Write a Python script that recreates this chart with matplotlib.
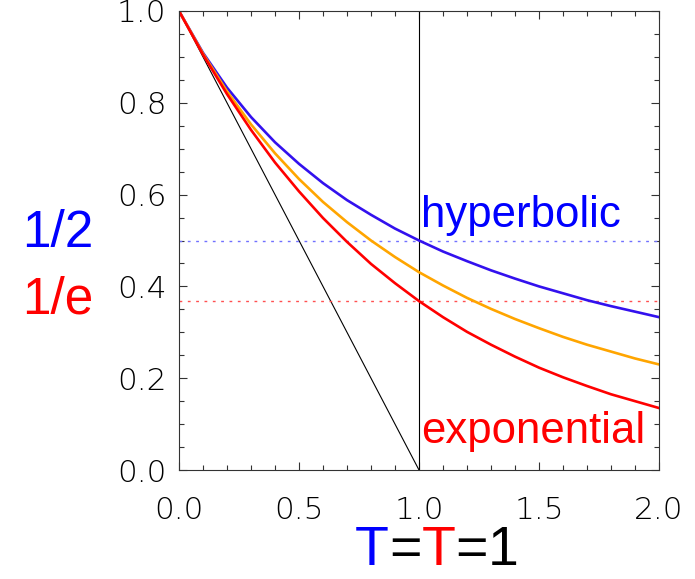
import matplotlib
matplotlib.use("Agg")
import matplotlib.pyplot as plt
from matplotlib.ticker import MultipleLocator

# time axis and the three decline curves
t = [0.0, 0.1, 0.2, 0.3, 0.4, 0.5, 0.6, 0.7, 0.8, 0.9, 1.0,
     1.1, 1.2, 1.3, 1.4, 1.5, 1.6, 1.7, 1.8, 1.9, 2.0]
hyperbolic = [1.000, 0.909, 0.833, 0.769, 0.714, 0.667, 0.625, 0.588, 0.556, 0.526, 0.500,
              0.476, 0.455, 0.435, 0.417, 0.400, 0.385, 0.370, 0.357, 0.345, 0.333]
intermediate = [1.000, 0.907, 0.825, 0.753, 0.690, 0.634, 0.584, 0.540, 0.500, 0.464, 0.431,
                0.402, 0.375, 0.351, 0.329, 0.309, 0.290, 0.273, 0.258, 0.243, 0.230]
exponential = [1.000, 0.905, 0.819, 0.741, 0.670, 0.607, 0.549, 0.497, 0.449, 0.407, 0.368,
               0.333, 0.301, 0.273, 0.247, 0.223, 0.202, 0.183, 0.165, 0.150, 0.135]

tangent_x = [0.0, 1.0]
tangent_y = [1.0, 0.0]
half_level = 0.5
e_level = 0.368
T_mark = 1.0

BLUE_LINE = '#3311ee'
fig = plt.figure(figsize=(6.95, 5.79), dpi=100)
ax = fig.add_axes([179 / 695, 1 - 470 / 579, 480 / 695, 459 / 579])

ax.plot(tangent_x, tangent_y, color='black', lw=0.8)
ax.axvline(T_mark, color='black', lw=0.8)
ax.axhline(half_level, color='#7070ff', lw=1.0, ls=(0, (2, 4)))
ax.axhline(e_level, color='#ff5050', lw=1.0, ls=(0, (2, 4)))

ax.plot(t, hyperbolic, color=BLUE_LINE, lw=1.9)
ax.plot(t, intermediate, color='#ffa500', lw=1.9)
ax.plot(t, exponential, color='#ff0000', lw=1.9)

ax.text(1.01, 0.529, 'hyperbolic', color='blue', fontsize=31.5,
        family='Liberation Sans', ha='left', va='baseline')
ax.text(1.01, 0.059, 'exponential', color='red', fontsize=31.5,
        family='Liberation Sans', ha='left', va='baseline')

ax.set_xlim(0, 2)
ax.set_ylim(0, 1)
ax.xaxis.set_major_locator(MultipleLocator(0.5))
ax.xaxis.set_minor_locator(MultipleLocator(0.1))
ax.yaxis.set_major_locator(MultipleLocator(0.2))
ax.yaxis.set_minor_locator(MultipleLocator(0.05))
ax.tick_params(which='both', direction='in', top=True, right=True, width=0.8, color='#333333')
ax.tick_params(which='major', length=6)
ax.tick_params(which='minor', length=3.5)
ax.tick_params(axis='x', which='major', pad=19)
ax.tick_params(axis='y', which='major', pad=9)
ax.xaxis.set_major_formatter(lambda v, p: f'{v:.1f}')
ax.yaxis.set_major_formatter(lambda v, p: f'{v:.1f}')
for lab in ax.get_xticklabels() + ax.get_yticklabels():
    lab.set_fontsize(22.5)
    lab.set_fontweight(200)
    lab.set_family('DejaVu Sans')
for s in ax.spines.values():
    s.set_linewidth(0.8)
    s.set_color('#333333')

# big labels to the left of the axes
fig.text(22 / 695, 1 - 247 / 579, '1/2', color='blue', fontsize=37,
         family='Liberation Sans', va='baseline')
fig.text(22 / 695, 1 - 313 / 579, '1/e', color='red', fontsize=37,
         family='Liberation Sans', va='baseline')

# x label built from coloured pieces
parts = [('T', 'blue'), ('=', 'black'), ('T', 'red'), ('=', 'black'), ('1', 'black')]
prev = fig.text(355 / 695, 1 - 565 / 579, parts[0][0], color=parts[0][1], fontsize=40,
                family='Liberation Sans', va='baseline')
for txt, col in parts[1:]:
    prev = ax.annotate(txt, xy=(1, 0), xycoords=prev, color=col, fontsize=40,
                       family='Liberation Sans', va='bottom', ha='left')

fig.savefig('out.png', dpi=100)
